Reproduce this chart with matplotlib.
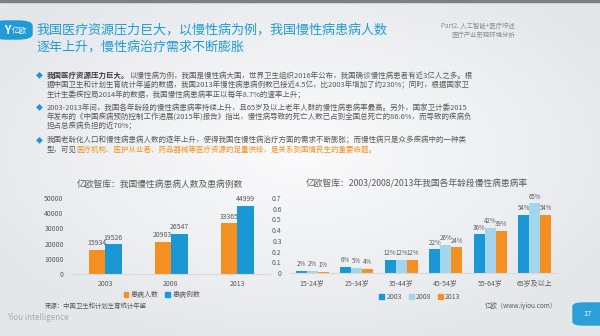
import matplotlib
matplotlib.use('Agg')
import matplotlib.pyplot as plt
from matplotlib.patches import FancyBboxPatch, Patch, Rectangle
import numpy as np

plt.rcParams['font.family'] = ['Noto Sans CJK SC', 'DejaVu Sans']

# 数据
years = ['2003', '2008', '2013']
patients = [15934, 20903, 33365]   # 患病人数
cases = [19526, 26547, 44999]      # 患病例数

age_groups = ['15-24岁', '25-34岁', '35-44岁', '45-54岁', '55-64岁', '65岁及以上']
rate_2003 = [0.02, 0.06, 0.12, 0.22, 0.36, 0.54]
rate_2008 = [0.02, 0.05, 0.12, 0.26, 0.42, 0.65]
rate_2013 = [0.01, 0.04, 0.12, 0.24, 0.39, 0.54]

left_yticks = [0, 10000, 20000, 30000, 40000, 50000]
right_yticks = [0, 0.1, 0.2, 0.3, 0.4, 0.5, 0.6, 0.7]

title_lines = ['我国医疗资源压力巨大，以慢性病为例，我国慢性病患病人数',
               '逐年上升，慢性病治疗需求不断膨胀']

ORANGE = '#f39021'
BLUE = '#1a98d5'
LIGHT = '#a3d5ec'
GRAY = '#595959'
HEAD = '#1f9bd7'

W, H = 600, 336


def fx(px):
    return px / W


def fy(py):
    return 1 - py / H


fig = plt.figure(figsize=(6, 3.36), dpi=100)

# 背景
bg = fig.add_axes([0, 0, 1, 1], zorder=-5)
yy, xx = np.mgrid[0:1:200j, 0:1:300j]
r = np.sqrt(((xx - 0.5) / 0.8) ** 2 + ((yy - 0.45) / 0.8) ** 2)
bg.imshow(r, cmap=matplotlib.colors.LinearSegmentedColormap.from_list('bg', ['#fbfbfc', '#e4e7ea']),
          extent=[0, 1, 0, 1], aspect='auto', vmin=0, vmax=0.75)
bg.set_xlim(0, 1)
bg.set_ylim(0, 1)
bg.axis('off')
bg.add_patch(Rectangle((0, fy(2)), 1, 2 / H, color='#7d7f82', transform=bg.transAxes))

# 左上角 logo
bg.add_patch(FancyBboxPatch((fx(-8), fy(39)), fx(40), 18 / H, boxstyle='round,pad=0,rounding_size=0.025',
                            color=HEAD, transform=bg.transAxes, mutation_aspect=H / W))
fig.text(fx(4), fy(30.5), 'Y', color='white', fontsize=8, fontweight='bold', va='center')
fig.text(fx(12), fy(30.5), '亿欧', color='white', fontsize=5.5, va='center')

# 标题
fig.text(fx(36), fy(30), title_lines[0], color=HEAD, fontsize=9.4, va='center')
fig.text(fx(36), fy(47), title_lines[1], color=HEAD, fontsize=9.4, va='center')
fig.text(fx(515), fy(26), 'Part2. 人工智能+医疗综述', color='#8c8c8c', fontsize=4.6, va='center', ha='right')
fig.text(fx(515), fy(34.5), '医疗产业宏观环境分析', color='#8c8c8c', fontsize=4.6, va='center', ha='right')

# 正文
BODY = 5.38


def put_line(px, py, parts):
    prev = None
    for txt, color, weight in parts:
        if prev is None:
            prev = bg.annotate(txt, xy=(fx(px), fy(py)), xycoords='figure fraction', va='center', ha='left',
                               color=color, fontsize=BODY, fontweight=weight)
        else:
            prev = bg.annotate(txt, xy=(1, 0), xycoords=prev, va='bottom', ha='left',
                               color=color, fontsize=BODY, fontweight=weight)


bullets = [75.7, 107.7, 140]
for by in bullets:
    fig.text(fx(39.3), fy(by), '◆', color=BLUE, fontsize=5, ha='center', va='center')

TX = 46.7
put_line(TX, 75.7, [('我国医疗资源压力巨大。', '#404040', 'bold'),
                    ('以慢性病为例，我国是慢性病大国，世界卫生组织2016年公布，我国确诊慢性病患者有近3亿人之多。根', GRAY, 'normal')])
put_line(TX, 85.2, [('据中国卫生和计划生育统计年鉴的数据，我国2013年慢性病患病例数已接近4.5亿，比2003年增加了约230%；同时，根据国家卫', GRAY, 'normal')])
put_line(TX, 94.7, [('生计生委疾控局2014年的数据，我国慢性病患病率正以每年8.7%的速率上升；', GRAY, 'normal')])
put_line(TX, 107.7, [('2003-2013年间，我国各年龄段的慢性病患病率持续上升，且65岁及以上老年人群的慢性病患病率最高。另外，国家卫计委2015', GRAY, 'normal')])
put_line(TX, 117.3, [('年发布的《中国疾病预防控制工作进展(2015年)报告》指出，慢性病导致的死亡人数已占到全国总死亡的86.6%，而导致的疾病负', GRAY, 'normal')])
put_line(TX, 126.7, [('担占总疾病负担的近70%；', GRAY, 'normal')])
put_line(TX, 140, [('我国老龄化人口和慢性病患病人数的逐年上升，使得我国在慢性病治疗方面的需求不断膨胀；而慢性病只是众多疾病中的一种类', GRAY, 'normal')])
put_line(TX, 150, [('型，可见', GRAY, 'normal'),
                   ('医疗机构、医护从业者、药品器械等医疗资源的足量供给，是关系到国情民生的重要命题。', ORANGE, 'normal')])


def style_axis(ax):
    for s in ['top', 'right', 'left']:
        ax.spines[s].set_visible(False)
    ax.spines['bottom'].set_color('#d9d9d9')
    ax.spines['bottom'].set_linewidth(0.8)
    ax.set_facecolor('none')
    ax.tick_params(length=0, labelsize=5, colors=GRAY)
    ax.tick_params(axis='x', pad=4)
    ax.tick_params(axis='y', pad=6)


# 左图
ax1 = fig.add_axes([fx(72), fy(274), fx(270) - fx(72), 76 / H])
x = np.arange(len(years))
w = 0.25
b1 = ax1.bar(x - w / 2, patients, w, color=ORANGE)
b2 = ax1.bar(x + w / 2, cases, w, color=BLUE)
for bars in (b1, b2):
    ax1.bar_label(bars, fmt='%d', fontsize=5, color=GRAY, padding=2)
ax1.set_xlim(-0.5, 2.5)
ax1.set_ylim(0, 50000)
ax1.set_yticks(left_yticks)
ax1.set_yticklabels([str(v) for v in left_yticks])
ax1.set_xticks(x)
ax1.set_xticklabels(years)
style_axis(ax1)
fig.text(fx(160), fy(184), '亿欧智库：我国慢性病患病人数及患病例数', color=GRAY, fontsize=6.3, ha='center', va='center')
fig.legend([Patch(color=ORANGE), Patch(color=BLUE)], ['患病人数', '患病例数'], loc='center',
           bbox_to_anchor=(fx(162), fy(295)), ncol=2, frameon=False, fontsize=5, handlelength=0.7,
           handleheight=0.7, handletextpad=0.3, columnspacing=1.0, labelcolor=GRAY)
fig.text(fx(45), fy(306), '来源：中国卫生和计划生育统计年鉴', color=GRAY, fontsize=4.6, va='center')
fig.text(fx(7), fy(318), 'Yiou intelligence', color='#a3abb3', fontsize=5.8, va='center')

# 右图
ax2 = fig.add_axes([fx(290), fy(273), fx(557) - fx(290), 75 / H])
x2 = np.arange(len(age_groups))
w2 = 0.25
series = [(rate_2003, BLUE, '2003'), (rate_2008, LIGHT, '2008'), (rate_2013, ORANGE, '2013')]
for i, (vals, c, lab) in enumerate(series):
    bars = ax2.bar(x2 + (i - 1) * w2, vals, w2, color=c, label=lab)
    ax2.bar_label(bars, labels=[f'{v:.0%}' for v in vals], fontsize=4.4, color=GRAY, padding=2)
ax2.set_xlim(-0.5, 5.5)
ax2.set_ylim(0, 0.7)
ax2.set_yticks(right_yticks)
ax2.set_yticklabels(['0' if v == 0 else f'{v:g}' for v in right_yticks])
ax2.set_xticks(x2)
ax2.set_xticklabels(age_groups)
style_axis(ax2)
fig.text(fx(417), fy(184), '亿欧智库：2003/2008/2013年我国各年龄段慢性病患病率', color=GRAY, fontsize=6.3,
         ha='center', va='center')
fig.legend([Patch(color=c) for _, c, _ in series], [s[2] for s in series], loc='center',
           bbox_to_anchor=(fx(420), fy(297)), ncol=3, frameon=False, fontsize=5, handlelength=0.7,
           handleheight=0.7, handletextpad=0.3, columnspacing=1.0, labelcolor=GRAY)
fig.text(fx(557), fy(306), '亿欧（www.iyiou.com）', color=GRAY, fontsize=4.6, ha='right', va='center')

# 页码
bg.add_patch(FancyBboxPatch((fx(573), fy(325)), fx(40), 22 / H, boxstyle='round,pad=0,rounding_size=0.018',
                            color='#2a9fd8', transform=bg.transAxes, mutation_aspect=H / W))
fig.text(fx(588), fy(314), '17', color='white', fontsize=5.5, ha='center', va='center')

fig.savefig('out.png', dpi=100)
